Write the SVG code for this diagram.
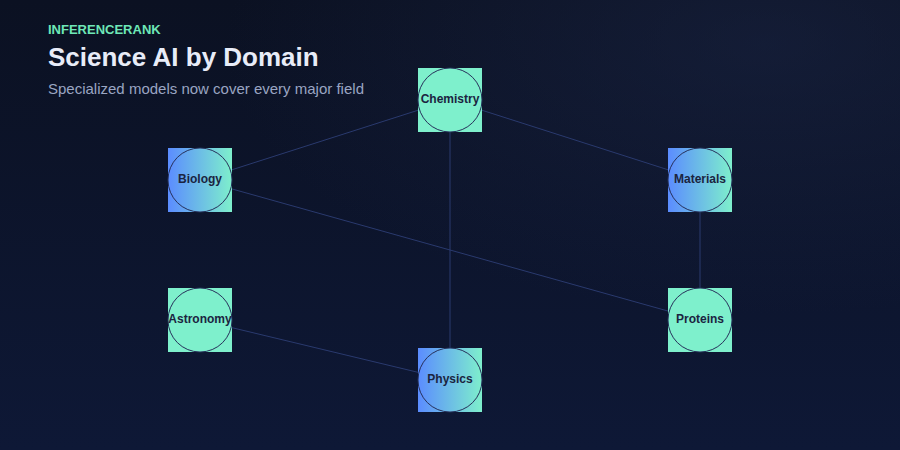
<svg xmlns="http://www.w3.org/2000/svg" width="900" height="450" viewBox="0 0 900 450">
<defs>
<linearGradient id="bg" x1="0" y1="0" x2="0" y2="1">
<stop offset="0" stop-color="#0b1122"/>
<stop offset="1" stop-color="#0e1836"/>
</linearGradient>
<radialGradient id="glow" cx="0.85" cy="0.1" r="0.6">
<stop offset="0" stop-color="#1c2748" stop-opacity="0.5"/>
<stop offset="1" stop-color="#1c2748" stop-opacity="0"/>
</radialGradient>
<linearGradient id="ng" x1="0" y1="0" x2="1" y2="0">
<stop offset="0" stop-color="#5b8cff"/>
<stop offset="1" stop-color="#7eefcc"/>
</linearGradient>
<style>
.sq-s{fill:#7ef0cc}
.sq-g{fill:url(#ng)}
.ring{fill:none;stroke:#26305a;stroke-width:1}
.lbl{font-family:"Liberation Sans",Arial,sans-serif;font-size:12px;font-weight:bold;fill:#1b2440;text-anchor:middle}
.edge{stroke:#2a3a6e;stroke-width:1;fill:none}
</style>
</defs>
<rect width="900" height="450" fill="url(#bg)"/>
<rect width="900" height="450" fill="url(#glow)"/>
<text x="48" y="33.5" font-family="Liberation Sans,Arial,sans-serif" font-size="13" font-weight="bold" fill="#6ee7b7">INFERENCERANK</text>
<text x="48" y="66" font-family="Liberation Sans,Arial,sans-serif" font-size="26" font-weight="bold" fill="#e8ecf8">Science AI by Domain</text>
<text x="48" y="94" font-family="Liberation Sans,Arial,sans-serif" font-size="15" fill="#9aa5c2">Specialized models now cover every major field</text>
<g id="connectors">
<line class="edge" x1="450" y1="100" x2="200" y2="180"/>
<line class="edge" x1="450" y1="100" x2="700" y2="180"/>
<line class="edge" x1="450" y1="100" x2="450" y2="380"/>
<line class="edge" x1="200" y1="180" x2="700" y2="320"/>
<line class="edge" x1="700" y1="180" x2="700" y2="320"/>
<line class="edge" x1="200" y1="320" x2="450" y2="380"/>
</g>
<g id="chemistry">
<rect class="sq-s" x="418" y="68" width="64" height="64"/>
<circle class="ring" cx="450" cy="100" r="32"/>
<text class="lbl" x="450" y="103">Chemistry</text>
</g>
<g id="biology">
<rect class="sq-g" x="168" y="148" width="64" height="64"/>
<circle class="ring" cx="200" cy="180" r="32"/>
<text class="lbl" x="200" y="183">Biology</text>
</g>
<g id="materials">
<rect class="sq-g" x="668" y="148" width="64" height="64"/>
<circle class="ring" cx="700" cy="180" r="32"/>
<text class="lbl" x="700" y="183">Materials</text>
</g>
<g id="astronomy">
<rect class="sq-s" x="168" y="288" width="64" height="64"/>
<circle class="ring" cx="200" cy="320" r="32"/>
<text class="lbl" x="200" y="323">Astronomy</text>
</g>
<g id="proteins">
<rect class="sq-s" x="668" y="288" width="64" height="64"/>
<circle class="ring" cx="700" cy="320" r="32"/>
<text class="lbl" x="700" y="323">Proteins</text>
</g>
<g id="physics">
<rect class="sq-g" x="418" y="348" width="64" height="64"/>
<circle class="ring" cx="450" cy="380" r="32"/>
<text class="lbl" x="450" y="383">Physics</text>
</g>
</svg>
